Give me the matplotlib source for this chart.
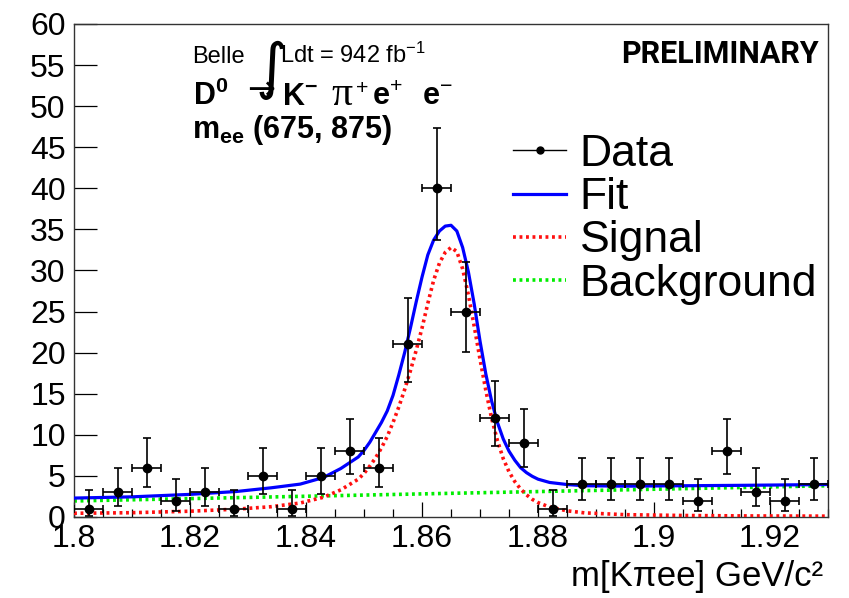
import matplotlib
matplotlib.use("Agg")
import matplotlib.pyplot as plt
from matplotlib.lines import Line2D

# histogram bins (width 0.005 GeV)
bin_centers = [1.8025, 1.8075, 1.8125, 1.8175, 1.8225, 1.8275, 1.8325, 1.8375,
               1.8425, 1.8475, 1.8525, 1.8575, 1.8625, 1.8675, 1.8725, 1.8775,
               1.8825, 1.8875, 1.8925, 1.8975, 1.9025, 1.9075, 1.9125, 1.9175,
               1.9225, 1.9275]
counts = [1, 3, 6, 2, 3, 1, 5, 1, 5, 8, 6, 21, 40, 25, 12, 9, 1, 4, 4, 4, 4, 2, 8, 3, 2, 4]
err_lo = [0.83, 1.63, 2.38, 1.29, 1.63, 0.83, 2.16, 0.83, 2.16, 2.77, 2.38, 4.55, 6.30,
          4.96, 3.41, 2.94, 0.83, 1.91, 1.91, 1.91, 1.91, 1.29, 2.77, 1.63, 1.29, 1.91]
err_hi = [2.30, 2.92, 3.58, 2.64, 2.92, 2.30, 3.38, 2.30, 3.38, 3.95, 3.58, 5.66, 7.38,
          6.06, 4.58, 4.11, 2.30, 3.16, 3.16, 3.16, 3.16, 2.64, 3.95, 2.92, 2.64, 3.16]
half_width = 0.0025

# fit curves, values
curve_x = [1.800, 1.810, 1.820, 1.828, 1.834, 1.839, 1.843, 1.846,
           1.849, 1.850, 1.851, 1.852, 1.853, 1.854, 1.855, 1.856, 1.857, 1.858,
           1.859, 1.860, 1.861, 1.862, 1.863, 1.864, 1.865, 1.866, 1.867, 1.868,
           1.869, 1.870, 1.871, 1.872, 1.873, 1.874, 1.875, 1.876, 1.877, 1.878,
           1.879, 1.880, 1.882, 1.885, 1.888, 1.895, 1.905, 1.915, 1.930]
signal = [0.45, 0.52, 0.70, 0.95, 1.25, 1.70, 2.40, 3.30,
          4.60, 5.30, 6.20, 7.20, 8.40, 9.80, 11.5, 13.4, 15.5, 17.8,
          20.3, 23.0, 26.0, 28.8, 30.9, 32.2, 32.8, 32.3, 30.2, 27.0,
          23.2, 19.2, 15.4, 12.0, 9.30, 7.10, 5.50, 4.30, 3.40, 2.70,
          2.15, 1.75, 1.20, 0.75, 0.50, 0.28, 0.18, 0.13, 0.10]
fit = [2.30, 2.45, 2.75, 3.10, 3.55, 4.00, 4.80, 5.90,
       7.30, 8.10, 9.10, 10.3, 11.5, 12.9, 14.8, 17.3, 20.0, 23.0,
       26.2, 29.2, 31.9, 33.7, 34.8, 35.4, 35.5, 34.8, 32.8, 29.8,
       25.9, 21.4, 17.4, 14.1, 11.5, 9.50, 8.00, 6.90, 6.00, 5.40,
       4.95, 4.60, 4.20, 3.95, 3.80, 3.75, 3.80, 3.85, 3.95]
bkg_x = [1.800, 1.865, 1.930]
background = [1.95, 2.88, 3.80]

xticks = [1.80, 1.82, 1.84, 1.86, 1.88, 1.90, 1.92]
xtick_labels = ["1.8", "1.82", "1.84", "1.86", "1.88", "1.9", "1.92"]
yticks = list(range(0, 61, 5))

plt.rcParams["font.family"] = ["Liberation Sans", "DejaVu Sans"]
plt.rcParams["mathtext.fontset"] = "custom"
plt.rcParams["mathtext.rm"] = "Liberation Sans"
plt.rcParams["mathtext.bf"] = "Liberation Sans:bold"
plt.rcParams["mathtext.it"] = "Liberation Sans:italic"

fig = plt.figure(figsize=(8.49, 5.98), dpi=100)
ax = fig.add_axes([0.0872, 0.1355, 0.8881, 0.8244])

dot = (0, (0.8, 1.0))
ax.plot(bkg_x, background, color="#00ee00", lw=2.6, ls=dot, zorder=2)
ax.plot(curve_x, signal, color="#ff1010", lw=2.6, ls=dot, zorder=3)
ax.plot(curve_x, fit, color="#0000ff", lw=2.3, zorder=4)
ax.errorbar(bin_centers, counts, xerr=half_width, yerr=[err_lo, err_hi],
            fmt="o", color="black", ms=6, elinewidth=1.2, capsize=3,
            capthick=1.2, zorder=5)

ax.set_xlim(1.80, 1.93)
ax.set_ylim(0, 60)
ax.set_xticks(xticks)
ax.set_xticklabels(xtick_labels)
ax.set_xticks([1.80 + 0.005 * i for i in range(27)], minor=True)
ax.set_yticks(yticks)
ax.tick_params(axis="both", which="major", direction="in", labelsize=23, width=0.9)
ax.tick_params(axis="y", which="major", length=16.5, pad=6)
ax.tick_params(axis="x", which="major", length=11, pad=5)
ax.tick_params(axis="x", which="minor", direction="in", length=5.8, width=0.9)
for s in ax.spines.values():
    s.set_linewidth(1.0)
    s.set_color("#333333")

ax.set_xlabel("m[K\u03c0ee] GeV/c\u00b2", fontsize=25, ha="right")
ax.xaxis.set_label_coords(0.9934, -0.088)

# labels in the upper left
tr = ax.transAxes
ax.text(0.1565, 0.921, "Belle", transform=tr, fontsize=17, va="baseline")
ax.text(0.2620, 0.905, "\u222b", transform=tr, fontsize=44,
        va="center", ha="center", family="DejaVu Sans")
ax.text(0.2735, 0.921, r"Ldt = 942 fb$^{-1}$", transform=tr, fontsize=17, va="baseline")

line2_y = 0.835
ax.text(0.1578, line2_y, r"$\mathbf{D}^{\mathbf{0}}$", transform=tr, fontsize=22, va="baseline")
ax.text(0.2480, line2_y + 0.012, "\u2192", transform=tr, fontsize=24, ha="center",
        va="baseline", family="DejaVu Sans")
ax.text(0.2759, line2_y, r"$\mathbf{K}^{\mathbf{-}}$", transform=tr, fontsize=22, va="baseline")
ax.text(0.3420, line2_y, "\u03c0", transform=tr, fontsize=30, va="baseline",
        family="Liberation Serif")
ax.text(0.3730, line2_y, r"$^{+}$", transform=tr, fontsize=22, va="baseline")
ax.text(0.3952, line2_y, r"$\mathbf{e}^{+}$", transform=tr, fontsize=22, va="baseline")
ax.text(0.4615, line2_y, r"$\mathbf{e}^{-}$", transform=tr, fontsize=22, va="baseline")

ax.text(0.1565, 0.7688, r"$\mathbf{m}_{\mathbf{ee}}$ (675, 875)", transform=tr,
        fontsize=22, fontweight="bold", va="baseline")
ax.text(0.988, 0.921, "PRELIMINARY", transform=tr, fontsize=22,
        fontweight="bold", ha="right", va="baseline", family="Roboto")

handles = [
    Line2D([], [], color="black", lw=1.0, marker="o", ms=5),
    Line2D([], [], color="#0000ff", lw=2.3),
    Line2D([], [], color="#ff1010", lw=2.6, ls=dot),
    Line2D([], [], color="#00ee00", lw=2.6, ls=dot),
]
ax.legend(handles, ["Data", "Fit", "Signal", "Background"], loc="upper left",
          bbox_to_anchor=(0.582, 0.777), frameon=False, fontsize=32,
          borderpad=0, borderaxespad=0, handlelength=1.2, handletextpad=0.3,
          labelspacing=0.05, numpoints=1)

fig.savefig("out.png", dpi=100)
